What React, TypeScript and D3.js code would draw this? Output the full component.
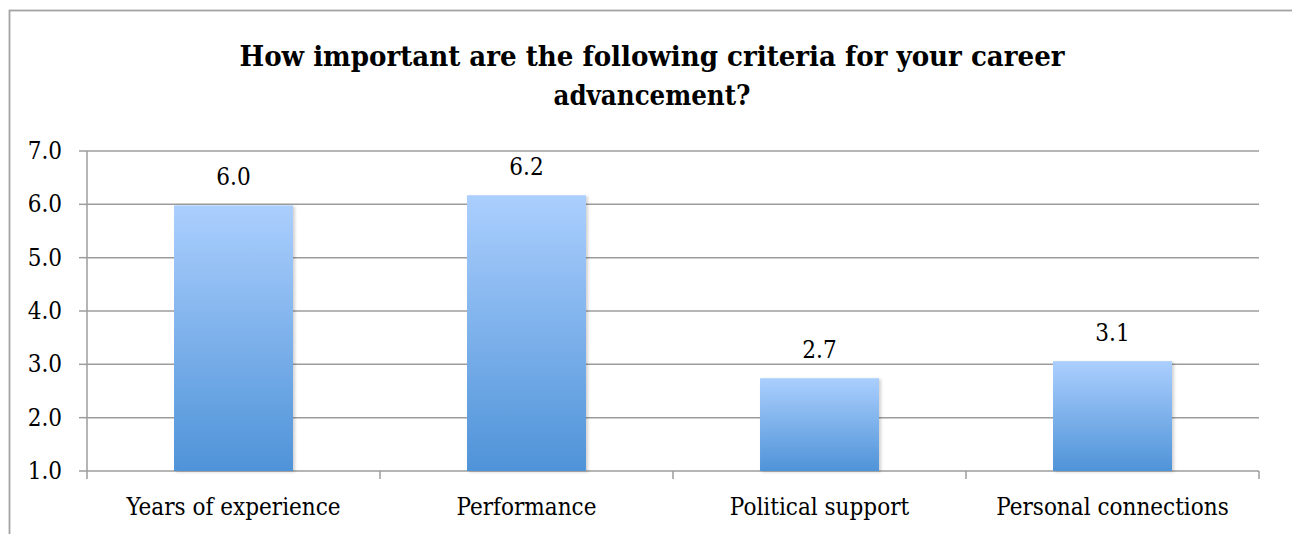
import React from "react";
import * as d3 from "d3";

const categories = ["Years of experience", "Performance", "Political support", "Personal connections"];
const values = [5.98, 6.17, 2.74, 3.06];
const yTicks = [1, 2, 3, 4, 5, 6, 7];
const titleLines = ["How important are the following criteria for your career", "advancement?"];

const W = 1292;
const H = 534;
const plot = { left: 87, right: 1259, top: 151, bottom: 471 };
const FONT = "'DejaVu Serif Condensed', 'DejaVu Serif', 'Liberation Serif', serif";

export default function App() {
  const x = d3.scaleBand<string>().domain(categories).range([plot.left, plot.right]).padding(0);
  const y = d3.scaleLinear().domain([1, 7]).range([plot.bottom, plot.top]);
  const barW = x.bandwidth() * 0.406;
  const fmt = d3.format(".1f");
  const grid = "#9c9c9c";

  return (
    <svg width={W} height={H} style={{ position: "absolute", left: 0, top: 0 }} fontFamily={FONT}>
      <defs>
        <linearGradient id="barGrad" x1="0" y1="0" x2="0" y2="1">
          <stop offset="0%" stopColor="#abcffe" />
          <stop offset="100%" stopColor="#4f93d8" />
        </linearGradient>
        <filter id="shadow" x="-10%" y="-10%" width="130%" height="130%">
          <feDropShadow dx="2" dy="1" stdDeviation="1.5" floodColor="#000" floodOpacity="0.18" />
        </filter>
      </defs>
      <rect x={0} y={0} width={W} height={H} fill="#fff" />
      <rect x={9.5} y={10.5} width={1310} height={560} fill="#fff" stroke="#a3a3a3" strokeWidth={1.8} />

      {titleLines.map((t, i) => (
        <text
          key={i}
          x={652}
          y={66 + i * 39}
          textAnchor="middle"
          fontWeight="bold"
          fontSize={28}
          fill="#000"
          textLength={i === 0 ? 825 : 197}
          lengthAdjust="spacingAndGlyphs"
        >
          {t}
        </text>
      ))}

      {yTicks.map((t) => (
        <g key={t}>
          <line x1={plot.left} x2={plot.right} y1={y(t)} y2={y(t)} stroke={grid} strokeWidth={1.5} />
          <line x1={plot.left - 8} x2={plot.left} y1={y(t)} y2={y(t)} stroke={grid} strokeWidth={1.5} />
          <text x={62} y={y(t) + 8} textAnchor="end" fontSize={24} fill="#000">
            {fmt(t)}
          </text>
        </g>
      ))}
      <line x1={plot.left} x2={plot.left} y1={plot.top} y2={plot.bottom + 8} stroke={grid} strokeWidth={1.5} />
      {categories.map((c) => (
        <line
          key={"t" + c}
          x1={(x(c) as number) + x.bandwidth()}
          x2={(x(c) as number) + x.bandwidth()}
          y1={plot.bottom}
          y2={plot.bottom + 8}
          stroke={grid}
          strokeWidth={1.5}
        />
      ))}

      {categories.map((c, i) => {
        const cx = (x(c) as number) + x.bandwidth() / 2;
        return (
          <g key={c}>
            <rect
              x={cx - barW / 2}
              y={y(values[i])}
              width={barW}
              height={plot.bottom - y(values[i])}
              fill="url(#barGrad)"
              filter="url(#shadow)"
            />
            <text x={cx} y={y(values[i]) - 20} textAnchor="middle" fontSize={24} fill="#000">
              {fmt(values[i])}
            </text>
            <text x={cx} y={515} textAnchor="middle" fontSize={24} fill="#000">
              {c}
            </text>
          </g>
        );
      })}
    </svg>
  );
}
